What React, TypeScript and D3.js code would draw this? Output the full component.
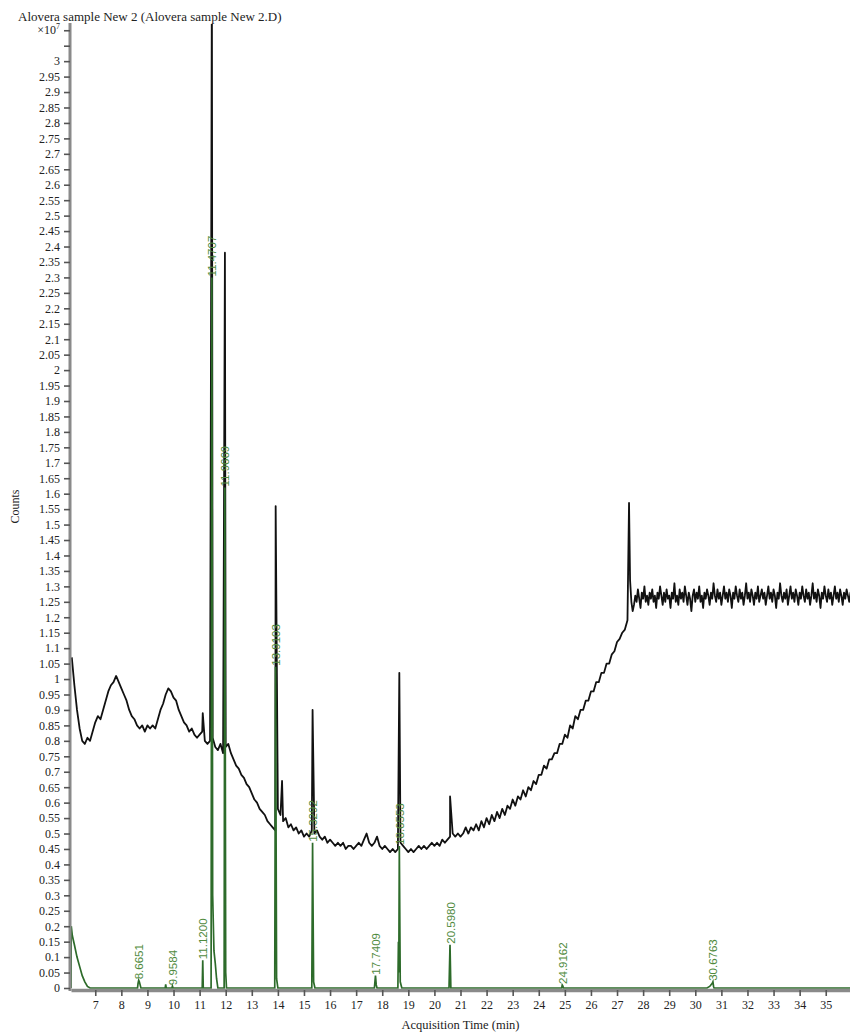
import React, { useEffect, useRef } from 'react';
import * as d3 from 'd3';

const WIDTH = 850;
const HEIGHT = 1036;

const TITLE = 'Alovera sample New 2 (Alovera sample New 2.D)';
const X_LABEL = 'Acquisition Time (min)';
const Y_LABEL = 'Counts';

const xTicks = [7, 8, 9, 10, 11, 12, 13, 14, 15, 16, 17, 18, 19, 20, 21, 22, 23, 24, 25, 26, 27, 28, 29, 30, 31, 32, 33, 34, 35];
const yTicks = [
  0, 0.05, 0.1, 0.15, 0.2, 0.25, 0.3, 0.35, 0.4, 0.45, 0.5, 0.55, 0.6, 0.65, 0.7, 0.75, 0.8, 0.85, 0.9, 0.95,
  1, 1.05, 1.1, 1.15, 1.2, 1.25, 1.3, 1.35, 1.4, 1.45, 1.5, 1.55, 1.6, 1.65, 1.7, 1.75, 1.8, 1.85, 1.9, 1.95,
  2, 2.05, 2.1, 2.15, 2.2, 2.25, 2.3, 2.35, 2.4, 2.45, 2.5, 2.55, 2.6, 2.65, 2.7, 2.75, 2.8, 2.85, 2.9, 2.95,
  3, 3.05, 3.1,
];

// TIC baseline (x10^7 counts), sampled every 0.1 min from 6.1 min
const ticStart = 6.1;
const ticStep = 0.1;
const ticCounts = [
  1.07, 0.98, 0.9, 0.84, 0.8, 0.79, 0.81, 0.8, 0.83, 0.86,
  0.88, 0.87, 0.9, 0.93, 0.96, 0.98, 0.99, 1.01, 0.99, 0.97,
  0.95, 0.93, 0.9, 0.88, 0.87, 0.85, 0.84, 0.85, 0.83, 0.85,
  0.84, 0.85, 0.84, 0.87, 0.9, 0.92, 0.95, 0.97, 0.96, 0.94,
  0.93, 0.9, 0.88, 0.86, 0.85, 0.83, 0.84, 0.82, 0.81, 0.82,
  0.83, 0.8, 0.79, 0.8, 0.81, 0.78, 0.77, 0.79, 0.76, 0.78,
  0.79, 0.76, 0.74, 0.72, 0.71, 0.69, 0.68, 0.66, 0.65, 0.63,
  0.61, 0.6, 0.58, 0.57, 0.56, 0.54, 0.53, 0.52, 0.51, 0.58,
  0.56, 0.54, 0.55, 0.52, 0.53, 0.51, 0.52, 0.5, 0.51, 0.49,
  0.5, 0.49, 0.51, 0.5, 0.51, 0.49, 0.48, 0.49, 0.47, 0.48,
  0.47, 0.46, 0.47, 0.46, 0.47, 0.45, 0.46, 0.46, 0.45, 0.46,
  0.47, 0.46, 0.48, 0.5, 0.47, 0.46, 0.47, 0.49, 0.46, 0.45,
  0.46, 0.45, 0.44, 0.45, 0.44, 0.45, 0.47, 0.46, 0.45, 0.44,
  0.45, 0.44, 0.45, 0.46, 0.45, 0.46, 0.45, 0.46, 0.47, 0.46,
  0.47, 0.46, 0.48, 0.47, 0.48, 0.49, 0.5, 0.49, 0.5, 0.49,
  0.5, 0.52, 0.5, 0.52, 0.51, 0.53, 0.51, 0.54, 0.52, 0.55,
  0.53, 0.56, 0.54, 0.57, 0.55, 0.58, 0.56, 0.59, 0.58, 0.61,
  0.59, 0.62, 0.61, 0.64, 0.62, 0.65, 0.64, 0.67, 0.66, 0.69,
  0.69, 0.72, 0.71, 0.74, 0.74, 0.76, 0.76, 0.79, 0.79, 0.82,
  0.81, 0.85, 0.84, 0.88, 0.87, 0.9, 0.9, 0.93, 0.93, 0.96,
  0.96, 0.99, 0.99, 1.02, 1.02, 1.05, 1.05, 1.08, 1.09, 1.12,
  1.13, 1.15, 1.16, 1.19,
];

// sharp TIC spikes [time, counts]
const ticSpikes: [number, number][] = [
  [11.12, 0.89], [11.47, 3.3], [11.97, 2.38], [13.915, 1.56], [14.16, 0.67],
  [15.33, 0.9], [18.655, 1.02], [20.6, 0.62], [27.46, 1.57],
];

// plateau after 27.5 min, every 0.05 min
const plateauStart = 27.5;
const plateauStep = 0.05;
const plateauCounts = [
  1.32, 1.25, 1.22, 1.24, 1.27, 1.25, 1.29, 1.26, 1.23, 1.28, 1.26, 1.3,
  1.25, 1.27, 1.24, 1.28, 1.26, 1.29, 1.25, 1.27, 1.23, 1.28, 1.26,
  1.3, 1.27, 1.24, 1.28, 1.25, 1.29, 1.26, 1.27, 1.23, 1.28,
  1.26, 1.31, 1.25, 1.27, 1.24, 1.29, 1.26, 1.28, 1.25, 1.3,
  1.27, 1.24, 1.28, 1.26, 1.22, 1.27, 1.29, 1.25, 1.28, 1.26,
  1.3, 1.25, 1.27, 1.23, 1.28, 1.26, 1.29, 1.27, 1.24, 1.28,
  1.26, 1.31, 1.27, 1.25, 1.29, 1.26, 1.28, 1.24, 1.27, 1.3,
  1.26, 1.28, 1.25, 1.29, 1.27, 1.23, 1.28, 1.26, 1.3, 1.27,
  1.25, 1.29, 1.26, 1.28, 1.24, 1.27, 1.31, 1.26, 1.28, 1.25,
  1.29, 1.27, 1.24, 1.28, 1.26, 1.3, 1.25, 1.27, 1.29, 1.26,
  1.28, 1.24, 1.27, 1.3, 1.26, 1.28, 1.25, 1.29, 1.27, 1.23,
  1.28, 1.26, 1.31, 1.27, 1.25, 1.28, 1.26, 1.29, 1.24, 1.27,
  1.3, 1.26, 1.28, 1.25, 1.29, 1.27, 1.24, 1.28, 1.26, 1.3,
  1.27, 1.25, 1.29, 1.26, 1.28, 1.24, 1.27, 1.31, 1.26, 1.28,
  1.25, 1.29, 1.27, 1.23, 1.28, 1.26, 1.3, 1.27, 1.25, 1.29,
  1.26, 1.28, 1.24, 1.27, 1.3, 1.26, 1.28, 1.25, 1.29, 1.27,
  1.24, 1.28, 1.26, 1.29, 1.27, 1.25, 1.28, 1.26,
];

// green (integrated) trace [time, counts]
const eicPoints: [number, number][] = [
  [6.07, 0], [6.08, 0.2], [6.12, 0.17], [6.2, 0.14], [6.3, 0.1], [6.4, 0.07], [6.5, 0.04], [6.6, 0.02], [6.7, 0.005], [6.8, 0],
  [8.62, 0], [8.64, 0.015], [8.665, 0.025], [8.69, 0.02], [8.72, 0.01], [8.75, 0],
  [9.68, 0], [9.7, 0.012], [9.72, 0],
  [9.94, 0], [9.958, 0.006], [9.98, 0],
  [11.1, 0], [11.12, 0.09], [11.14, 0],
  [11.44, 0], [11.47, 2.3], [11.5, 0.3], [11.55, 0.12], [11.6, 0.08], [11.65, 0.03], [11.7, 0],
  [11.94, 0], [11.967, 1.62], [12.0, 0.05], [12.03, 0],
  [13.88, 0], [13.91, 1.04], [13.95, 0.03], [14.0, 0],
  [15.3, 0], [15.33, 0.47], [15.37, 0.02], [15.42, 0],
  [17.7, 0], [17.72, 0.02], [17.741, 0.04], [17.77, 0.01], [17.8, 0],
  [18.6, 0], [18.62, 0.15], [18.635, 0.05], [18.655, 0.46], [18.69, 0.02], [18.75, 0],
  [20.56, 0], [20.598, 0.14], [20.63, 0],
  [24.88, 0], [24.9, 0.01], [24.916, 0.008], [24.95, 0],
  [30.45, 0], [30.55, 0.005], [30.65, 0.015], [30.676, 0.02], [30.7, 0.005], [30.72, 0],
  [35.95, 0],
];

const peakTimes = [8.6651, 9.9584, 11.12, 11.4707, 11.9669, 13.9103, 15.3292, 17.7409, 18.6553, 20.598, 24.9162, 30.6763];
const peakLabels = ['8.6651', '9.9584', '11.1200', '11.4707', '11.9669', '13.9103', '15.3292', '17.7409', '18.6553', '20.5980', '24.9162', '30.6763'];

const SERIF = '"Liberation Serif", "Times New Roman", serif';
const SANS = '"Liberation Sans", Arial, sans-serif';

const App = () => {
  const svgRef = useRef<SVGSVGElement>(null);

  useEffect(() => {
    const svg = d3.select(svgRef.current);
    svg.selectAll('*').remove();

    const margin = { top: 25, right: 0, bottom: 48, left: 71 };
    const x = d3.scaleLinear().domain([6.07, 35.93]).range([margin.left, WIDTH - margin.right]);
    const y = d3.scaleLinear().domain([0, 3.117]).range([HEIGHT - margin.bottom, margin.top]);

    svg.append('rect').attr('width', WIDTH).attr('height', HEIGHT).attr('fill', '#fff');

    svg
      .append('defs')
      .append('clipPath')
      .attr('id', 'plot-clip')
      .append('rect')
      .attr('x', margin.left)
      .attr('y', margin.top - 1)
      .attr('width', WIDTH - margin.left)
      .attr('height', HEIGHT - margin.bottom - margin.top + 4);

    const ticSeries: [number, number][] = [
      ...ticCounts.map((v, i) => [ticStart + i * ticStep, v] as [number, number]),
      ...ticSpikes,
      ...plateauCounts.map((v, i) => [plateauStart + i * plateauStep, v] as [number, number]),
    ].sort((a, b) => a[0] - b[0]);

    const line = d3
      .line<[number, number]>()
      .x((d) => x(d[0]))
      .y((d) => y(d[1]));

    const plot = svg.append('g').attr('clip-path', 'url(#plot-clip)');

    plot
      .append('path')
      .datum(ticSeries)
      .attr('fill', 'none')
      .attr('stroke', '#111')
      .attr('stroke-width', 1.8)
      .attr('stroke-linejoin', 'round')
      .attr('d', line);

    plot
      .append('path')
      .datum(eicPoints)
      .attr('fill', 'none')
      .attr('stroke', '#2d6b2a')
      .attr('stroke-width', 1.7)
      .attr('d', line);

    // retention time labels, placed at the green apex
    peakTimes.forEach((rt, i) => {
      const near = eicPoints.filter((p) => Math.abs(p[0] - rt) < 0.04);
      const apex = d3.max(near, (p) => p[1]) ?? 0;
      const px = x(rt) + 4.5;
      const py = y(apex) - 1;
      svg
        .append('text')
        .attr('transform', `translate(${px},${py}) rotate(-90)`)
        .attr('text-anchor', 'start')
        .style('font-family', SANS)
        .style('font-size', '11.5px')
        .attr('fill', '#4f8a3d')
        .text(peakLabels[i]);
    });

    // y axis
    const yAxis = svg
      .append('g')
      .attr('transform', `translate(${margin.left - 1},0)`)
      .call(
        d3
          .axisLeft(y)
          .tickValues(yTicks)
          .tickSize(6)
          .tickSizeOuter(0)
          .tickPadding(4)
          .tickFormat((d) => (+d >= 3.05 ? '' : d3.format('~g')(+d))),
      );
    yAxis.select('.domain').attr('stroke', '#8a8a8a').attr('stroke-width', 3).attr('d', `M0,${y(0) + 3}V${margin.top - 2}`);
    yAxis.selectAll('.tick line').attr('stroke', '#555').attr('stroke-width', 1.6);
    yAxis.selectAll('.tick text').style('font-family', SERIF).style('font-size', '12px').attr('fill', '#222');

    const expLabel = svg
      .append('text')
      .attr('x', margin.left - 11)
      .attr('y', y(3.1) + 4)
      .attr('text-anchor', 'end')
      .style('font-family', SERIF)
      .style('font-size', '12px')
      .attr('fill', '#222');
    expLabel.append('tspan').text('×10');
    expLabel.append('tspan').attr('dy', -5).style('font-size', '8px').text('7');

    // x axis
    const xAxis = svg
      .append('g')
      .attr('transform', `translate(0,${y(0) + 2})`)
      .call(d3.axisBottom(x).tickValues(xTicks).tickSize(6).tickSizeOuter(0).tickPadding(4).tickFormat(d3.format('d')));
    xAxis.select('.domain').attr('stroke', '#8a8a8a').attr('stroke-width', 3.5);
    xAxis.selectAll('.tick line').attr('stroke', '#555').attr('stroke-width', 1.6);
    xAxis.selectAll('.tick text').style('font-family', SERIF).style('font-size', '12px').attr('fill', '#222');

    // titles
    svg
      .append('text')
      .attr('x', 18)
      .attr('y', 21)
      .style('font-family', SERIF)
      .style('font-size', '13px')
      .attr('fill', '#222')
      .text(TITLE);

    svg
      .append('text')
      .attr('x', (margin.left + WIDTH) / 2)
      .attr('y', 1029)
      .attr('text-anchor', 'middle')
      .style('font-family', SERIF)
      .style('font-size', '12.5px')
      .attr('fill', '#222')
      .text(X_LABEL);

    svg
      .append('text')
      .attr('transform', `translate(19,${(margin.top + y(0)) / 2}) rotate(-90)`)
      .attr('text-anchor', 'middle')
      .style('font-family', SERIF)
      .style('font-size', '12px')
      .attr('fill', '#222')
      .text(Y_LABEL);
  }, []);

  return (
    <svg
      ref={svgRef}
      width={WIDTH}
      height={HEIGHT}
      style={{ position: 'absolute', left: 0, top: 0, display: 'block' }}
    />
  );
};

export default App;
